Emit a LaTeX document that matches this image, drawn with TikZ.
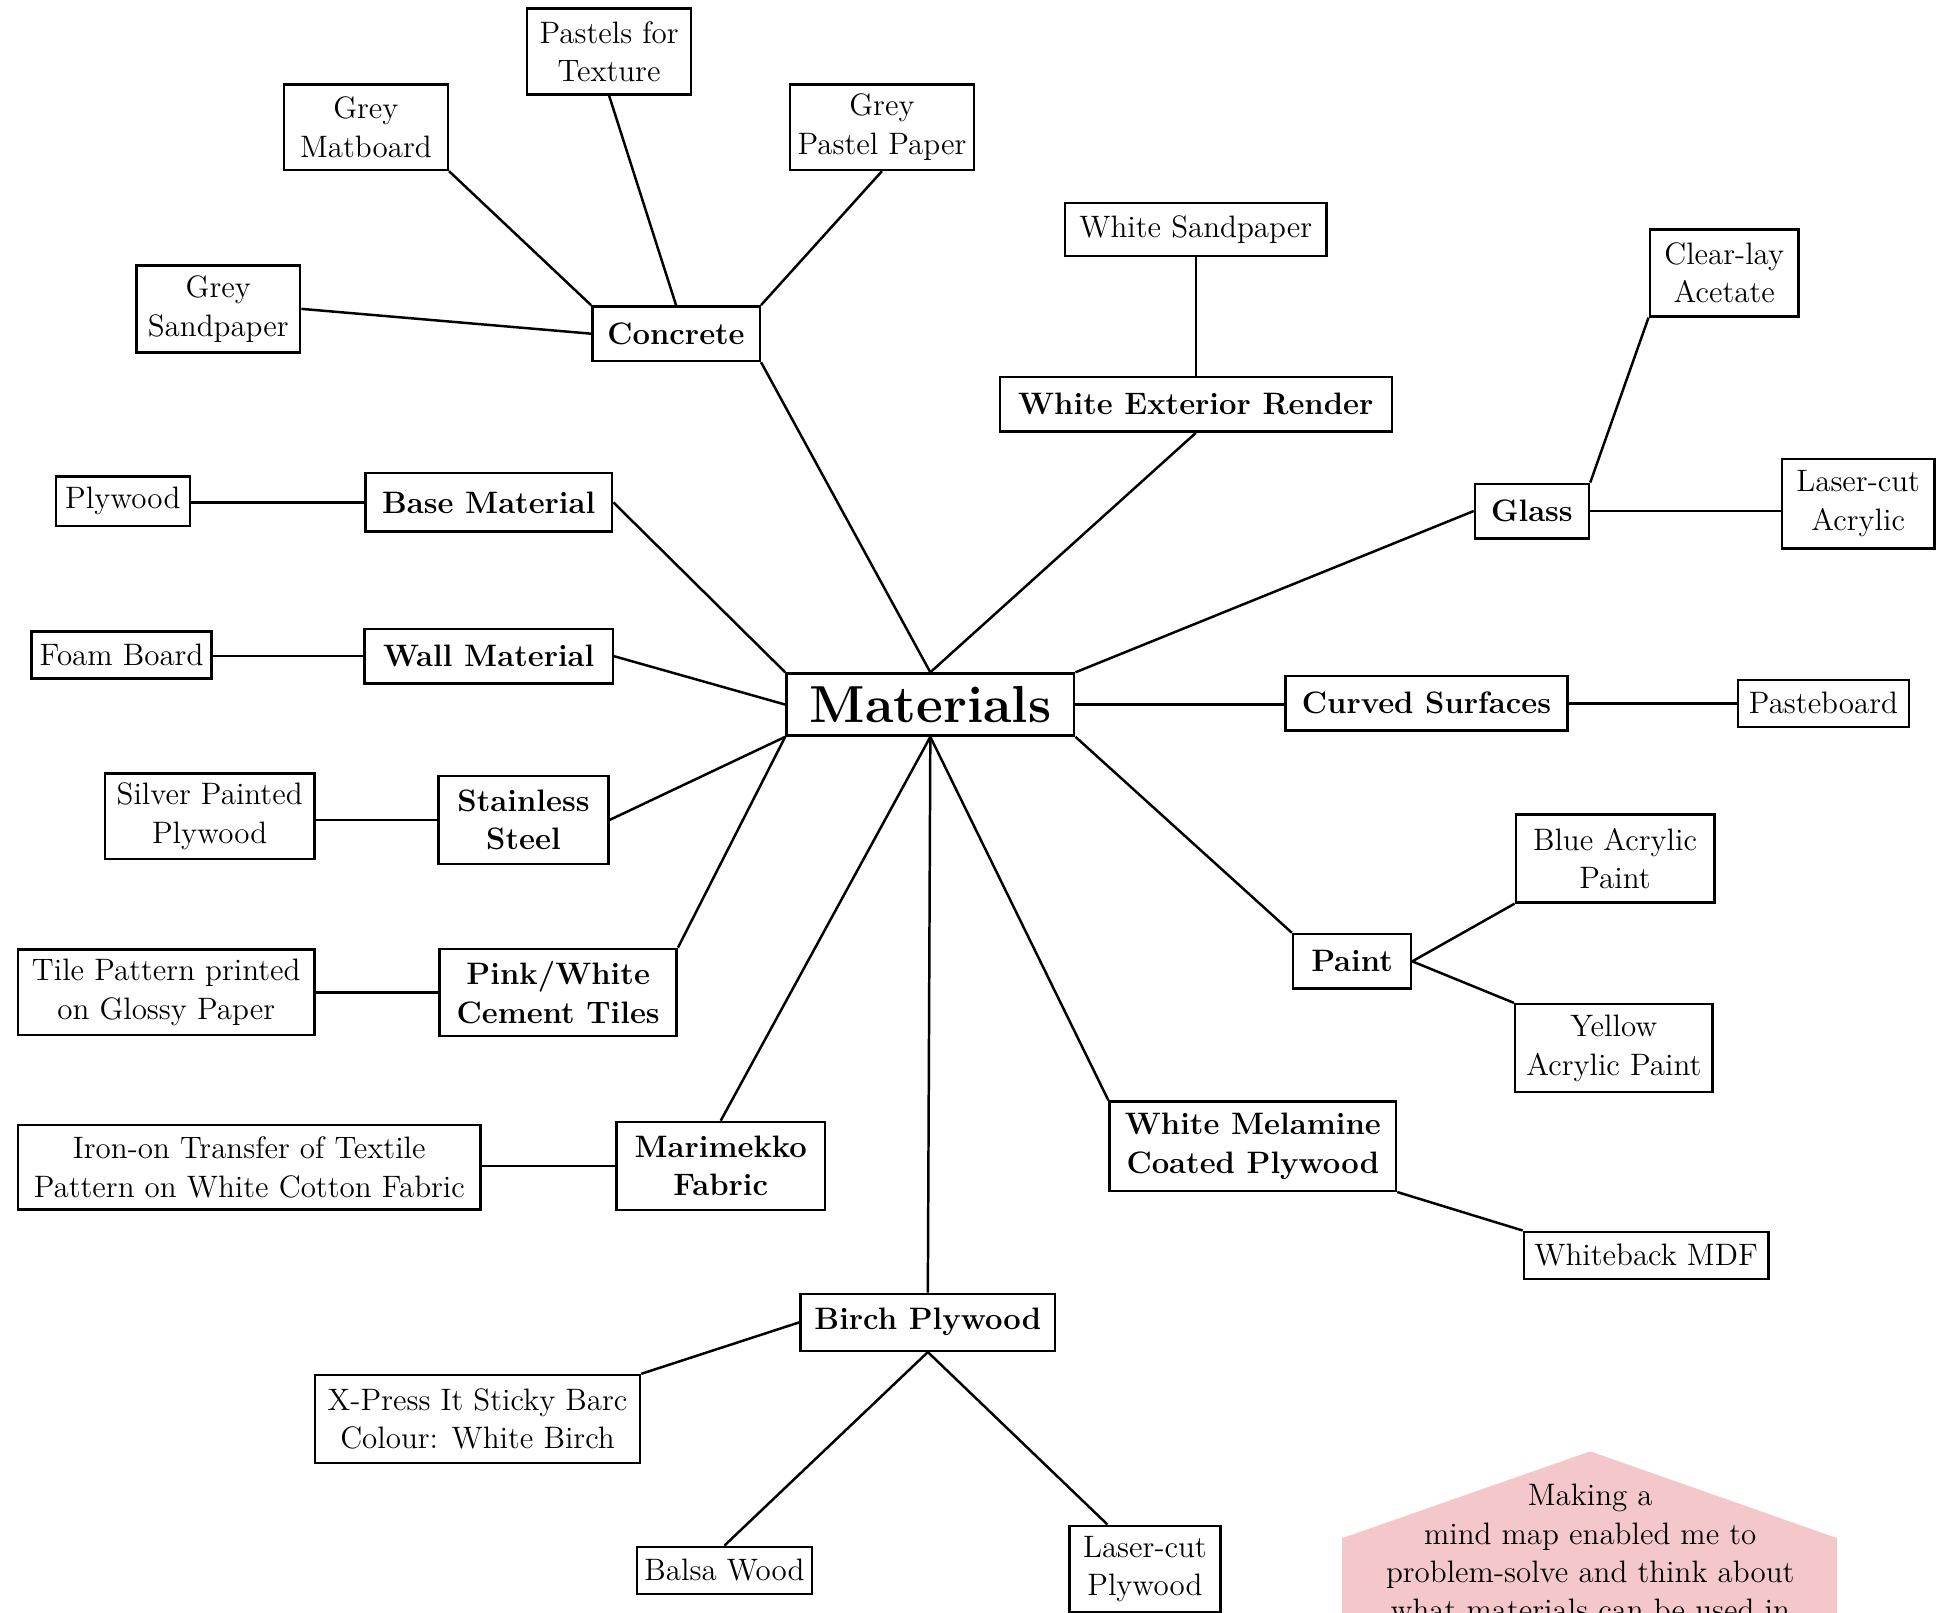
\documentclass[tikz,border=0pt]{standalone}
\usepackage{fontspec}
\usetikzlibrary{calc}
\definecolor{notepink}{HTML}{F4C8CA}
\tikzset{
  leaf/.style={draw=black, line width=1pt, align=center, inner xsep=3pt, inner ysep=2pt,
    minimum height=19pt, font=\fontsize{12.5}{15.5}\selectfont},
  topic/.style={leaf, minimum height=22pt, font=\bfseries\fontsize{12.5}{15.5}\selectfont},
  hub/.style={leaf, minimum height=25pt, font=\bfseries\fontsize{21}{24}\selectfont},
  link/.style={-, line width=1pt, draw=black}
}
\begin{document}
\begin{tikzpicture}[x=0.5pt, y=-0.5pt]
\useasboundingbox (0,0) rectangle (1568,1300);
% note in the corner
\fill[notepink] (1082,1330) -- (1082,1240) -- (1282,1170) -- (1481,1240) -- (1481,1330) -- cycle;
\node[align=center, anchor=north, inner sep=0pt, font=\fontsize{12.5}{15.5}\selectfont] (note) at (1282,1196)
  {Making a\\mind map enabled me to\\problem-solve and think about\\what materials can be used in};
% centre
\node[hub, minimum width=116pt] (mat) at (750,568) {Materials};
% main topics
\node[topic, minimum width=67.5pt] (conc) at (545,269) {Concrete};
\node[topic, minimum width=158pt] (wer) at (964,326) {White Exterior Render};
\node[topic, minimum width=46pt] (glass) at (1235,412) {Glass};
\node[topic, minimum width=99.5pt, minimum height=23.5pt] (base) at (394,405) {Base Material};
\node[topic, minimum width=100pt] (wall) at (394,529) {Wall Material};
\node[topic, minimum width=113.5pt] (curv) at (1150,567) {Curved Surfaces};
\node[topic, minimum width=68.5pt, minimum height=35.5pt] (stst) at (422,661) {Stainless\\Steel};
\node[topic, minimum width=95.5pt, minimum height=35pt] (tiles) at (450,800) {Pink/White\\Cement Tiles};
\node[topic, minimum width=47.5pt] (paint) at (1090,775) {Paint};
\node[topic, minimum width=84pt, minimum height=35.5pt] (mari) at (581,940) {Marimekko\\Fabric};
\node[topic, minimum width=115.5pt, minimum height=36pt] (mel) at (1010,924) {White Melamine\\Coated Plywood};
\node[topic, minimum width=102.5pt, minimum height=23pt] (birch) at (748,1066) {Birch Plywood};
% materials used
\node[leaf, minimum width=66pt, minimum height=34.5pt] (past) at (491,41.5) {Pastels for\\Texture};
\node[leaf, minimum width=66pt, minimum height=34.5pt] (matb) at (295,102.5) {Grey\\Matboard};
\node[leaf, minimum width=74pt, minimum height=34.5pt] (gpp) at (711,102.5) {Grey\\Pastel Paper};
\node[leaf, minimum width=66pt, minimum height=35pt] (gsand) at (176,249) {Grey\\Sandpaper};
\node[leaf, minimum width=105.5pt, minimum height=21.5pt] (wsand) at (964,185) {White Sandpaper};
\node[leaf, minimum width=60pt, minimum height=35pt] (clear) at (1390,220) {Clear-lay\\Acetate};
\node[leaf, minimum width=61.5pt, minimum height=36pt] (lacr) at (1498,406) {Laser-cut\\Acrylic};
\node[leaf, minimum width=54pt, minimum height=20pt] (ply) at (99,404) {Plywood};
\node[leaf, minimum width=72.5pt] (foam) at (98,528) {Foam Board};
\node[leaf, minimum width=69pt] (paste) at (1470,567) {Pasteboard};
\node[leaf, minimum width=84.5pt, minimum height=34.5pt] (silv) at (169,658) {Silver Painted\\Plywood};
\node[leaf, minimum width=80pt, minimum height=35.5pt] (blue) at (1302,692) {Blue Acrylic\\Paint};
\node[leaf, minimum width=119.5pt, minimum height=34.5pt] (tilep) at (134,800) {Tile Pattern printed\\on Glossy Paper};
\node[leaf, minimum width=79.5pt, minimum height=35.5pt] (yell) at (1301,845) {Yellow\\Acrylic Paint};
\node[leaf, minimum width=186.5pt, minimum height=34pt] (iron) at (201,941) {Iron-on Transfer of Textile\\Pattern on White Cotton Fabric};
\node[leaf, minimum width=98.5pt] (wmdf) at (1327,1012) {Whiteback MDF};
\node[leaf, minimum width=131pt, minimum height=35.5pt] (xpr) at (385,1144) {X-Press It Sticky Barc\\Colour: White Birch};
\node[leaf, minimum width=70pt] (balsa) at (584,1266) {Balsa Wood};
\node[leaf, minimum width=61pt, minimum height=35pt] (lcply) at (923,1265) {Laser-cut\\Plywood};
% spokes from the centre
\path[link] (mat.north) edge (conc.south east);
\path[link] (mat.north) edge (wer.south);
\path[link] (mat.north east) edge (glass.west);
\path[link] (mat.east) edge (mat.east -| curv.west);
\path[link] (mat.south east) edge (paint.north west);
\path[link] (mat.south) edge (mel.north west);
\path[link] (mat.south) edge (birch.north);
\path[link] (mat.south) edge (mari.north);
\path[link] (mat.south west) edge (tiles.north east);
\path[link] (mat.south west) edge (stst.east);
\path[link] (mat.west) edge (wall.east);
\path[link] (mat.north west) edge (base.east);
% branches
\path[link] (conc.west) edge (gsand.east);
\path[link] (conc.north west) edge (matb.south east);
\path[link] (conc.north) edge (past.south);
\path[link] (conc.north east) edge (gpp.south);
\path[link] (wer.north) edge (wsand.south);
\path[link] (glass.north east) edge (clear.south west);
\path[link] (glass.east) edge (glass.east -| lacr.west);
\path[link] (base.west) edge (base.west -| ply.east);
\path[link] (wall.west) edge (wall.west -| foam.east);
\path[link] (curv.east) edge (curv.east -| paste.west);
\path[link] (stst.west) edge (stst.west -| silv.east);
\path[link] (tiles.west) edge (tilep.east);
\path[link] (paint.east) edge (blue.south west);
\path[link] (paint.east) edge (yell.north west);
\path[link] (mari.west) edge (mari.west -| iron.east);
\path[link] (mel.south east) edge (wmdf.north west);
\path[link] (birch.west) edge (xpr.north east);
\path[link] (birch.south) edge (balsa.north);
\path[link] (birch.south) edge (lcply.130);
\end{tikzpicture}
\end{document}
